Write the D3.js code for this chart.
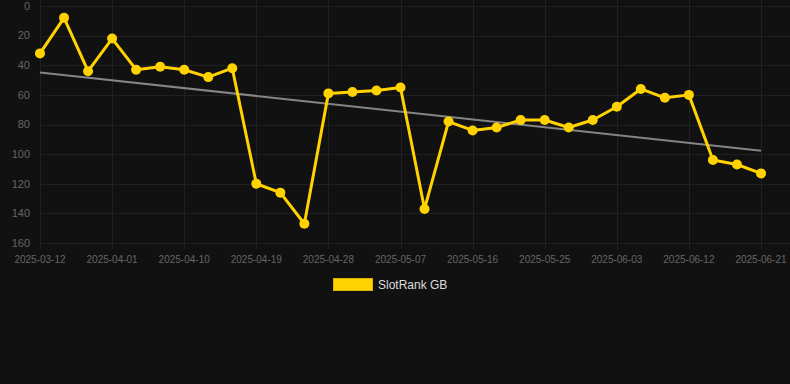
<!DOCTYPE html>
<meta charset="utf-8">
<style>
body { margin: 0; background: #111111; }
svg { display: block; font-family: Arial, "Liberation Sans", sans-serif; }
.grid line { stroke: #202020; stroke-width: 1; shape-rendering: crispEdges; }
.tick-label { fill: #666666; }
</style>
<svg width="790" height="384"></svg>
<script src="https://d3js.org/d3.v7.min.js"></script>
<script>

// Dates (category axis, only every third label is shown)
var dates = ["2025-03-12", "2025-03-26", "2025-03-29", "2025-04-01", "2025-04-04", "2025-04-07",
  "2025-04-10", "2025-04-13", "2025-04-16", "2025-04-19", "2025-04-22", "2025-04-25",
  "2025-04-28", "2025-05-01", "2025-05-04", "2025-05-07", "2025-05-10", "2025-05-13",
  "2025-05-16", "2025-05-19", "2025-05-22", "2025-05-25", "2025-05-28", "2025-05-31",
  "2025-06-03", "2025-06-06", "2025-06-09", "2025-06-12", "2025-06-15", "2025-06-18",
  "2025-06-21"];

// Rank values (lower is better, axis is reversed)
var ranks = [32, 8, 44, 22, 43, 41, 43, 48, 42, 120, 126, 147, 59, 58, 57, 55,
  137, 78, 84, 82, 77, 77, 82, 77, 68, 56, 62, 60, 104, 107, 113];

var yTicks = [0, 20, 40, 60, 80, 100, 120, 140, 160];
var seriesName = "SlotRank GB";

var svg = d3.select("svg"),
    margin = {top: 6, right: 29, bottom: 141, left: 40},
    width = +svg.attr("width") - margin.left - margin.right,
    height = +svg.attr("height") - margin.top - margin.bottom,
    g = svg.append("g").attr("transform", "translate(" + margin.left + "," + margin.top + ")");

var x = d3.scalePoint()
    .domain(d3.range(dates.length))
    .range([0, width]);

var y = d3.scaleLinear()
    .domain([0, 160])
    .range([0, height]);

// Horizontal grid
g.append("g").attr("class", "grid")
  .selectAll("line")
  .data(yTicks)
  .enter().append("line")
    .attr("x1", 0)
    .attr("x2", width + margin.right)
    .attr("y1", function(d) { return Math.round(y(d)) + 0.5; })
    .attr("y2", function(d) { return Math.round(y(d)) + 0.5; });

// Vertical grid at shown labels
var shown = d3.range(0, dates.length, 3);
g.append("g").attr("class", "grid")
  .selectAll("line")
  .data(shown)
  .enter().append("line")
    .attr("x1", function(d) { return Math.round(x(d)) + 0.5; })
    .attr("x2", function(d) { return Math.round(x(d)) + 0.5; })
    .attr("y1", -margin.top)
    .attr("y2", height + 6);

// Y labels
g.append("g")
  .selectAll("text")
  .data(yTicks)
  .enter().append("text")
    .attr("class", "tick-label")
    .attr("x", -10)
    .attr("y", function(d) { return y(d); })
    .attr("dy", "0.35em")
    .attr("text-anchor", "end")
    .attr("font-size", "11px")
    .text(function(d) { return d; });

// X labels
g.append("g")
  .selectAll("text")
  .data(shown)
  .enter().append("text")
    .attr("class", "tick-label")
    .attr("x", function(d) { return x(d); })
    .attr("y", height + 16)
    .attr("dy", "0.35em")
    .attr("text-anchor", "middle")
    .attr("font-size", "10px")
    .text(function(d) { return dates[d]; });

// Trend line (least squares fit)
var n = ranks.length,
    meanX = d3.mean(d3.range(n)),
    meanY = d3.mean(ranks),
    slope = d3.sum(ranks, function(v, i) { return (i - meanX) * (v - meanY); }) /
            d3.sum(d3.range(n), function(i) { return (i - meanX) * (i - meanX); }),
    intercept = meanY - slope * meanX;

g.append("line")
    .attr("x1", x(0))
    .attr("y1", y(intercept))
    .attr("x2", x(n - 1))
    .attr("y2", y(intercept + slope * (n - 1)))
    .attr("stroke", "#858585")
    .attr("stroke-width", 2);

// Series line
var line = d3.line()
    .x(function(d, i) { return x(i); })
    .y(function(d) { return y(d); });

g.append("path")
    .datum(ranks)
    .attr("d", line)
    .attr("fill", "none")
    .attr("stroke", "#ffd200")
    .attr("stroke-width", 3)
    .attr("stroke-linejoin", "round");

g.selectAll("circle")
  .data(ranks)
  .enter().append("circle")
    .attr("cx", function(d, i) { return x(i); })
    .attr("cy", function(d) { return y(d); })
    .attr("r", 5)
    .attr("fill", "#ffd200");

// Legend
var legend = svg.append("g").attr("transform", "translate(333,278)");
legend.append("rect")
    .attr("x", 0.5)
    .attr("y", 0.5)
    .attr("width", 39)
    .attr("height", 12)
    .attr("fill", "#ffd200")
    .attr("stroke", "#d9b300")
    .attr("stroke-width", 1);
legend.append("text")
    .attr("x", 45)
    .attr("y", 6.5)
    .attr("dy", "0.35em")
    .attr("font-size", "12px")
    .attr("fill", "#dddddd")
    .text(seriesName);

</script>
